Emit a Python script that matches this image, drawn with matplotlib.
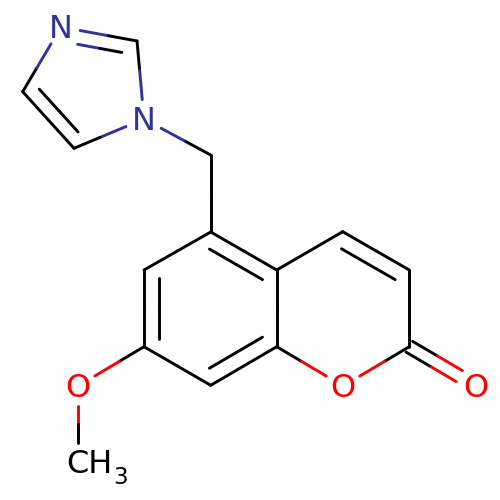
import numpy as np
import matplotlib
matplotlib.use("Agg")
import matplotlib.pyplot as plt

# Atoms of the drawn molecule (positions, in image pixels)
atom_names = ["N3", "C2i", "N1", "C5i", "C4i", "CH2", "C5", "C6", "C7", "C8", "C8a", "C4a",
              "C4", "C3", "C2", "O1", "Oexo", "OMe", "CH3"]
atom_x = [61, 137, 144, 74, 22.7, 210.7, 210.7, 144, 144, 210.7, 276.7, 276.7,
          342.7, 409.3, 409.3, 343, 476, 78, 78]
atom_y = [27, 41, 119, 148.3, 91.7, 155, 232, 270, 346.7, 385.3, 346.7, 270,
          231.7, 270, 346.7, 386, 386, 386, 462]
atom_elements = ["N", "C", "N", "C", "C", "C", "C", "C", "C", "C", "C", "C",
                 "C", "C", "C", "O", "O", "O", "C"]
labelled_atoms = ["N3", "N1", "O1", "Oexo", "OMe", "CH3"]

# Connectivity
single_bonds = [("C2i", "N1"), ("N1", "C5i"), ("C4i", "N3"), ("N1", "CH2"), ("CH2", "C5"),
                ("C5", "C6"), ("C7", "C8"), ("C7", "OMe"), ("OMe", "CH3"),
                ("C4a", "C8a"), ("C4a", "C4"), ("C3", "C2"), ("C8a", "O1"), ("C2", "O1")]
ring_double_bonds = [("N3", "C2i"), ("C5i", "C4i"), ("C6", "C7"), ("C8", "C8a"),
                     ("C5", "C4a"), ("C4", "C3")]
exo_double_bonds = [("C2", "Oexo")]

COLORS = {"C": "#000000", "N": "#333399", "O": "#FF0000"}
LW = 2.1
LABEL_GAP = 19.5
pos = {n: np.array([x, y], float) for n, x, y in zip(atom_names, atom_x, atom_y)}
elem = dict(zip(atom_names, atom_elements))
ring_centers = {5: np.mean([pos[n] for n in ["N3", "C2i", "N1", "C5i", "C4i"]], axis=0),
                6: np.mean([pos[n] for n in ["C5", "C6", "C7", "C8", "C8a", "C4a"]], axis=0),
                7: np.mean([pos[n] for n in ["C8a", "C4a", "C4", "C3", "C2", "O1"]], axis=0)}

fig = plt.figure(figsize=(5, 5), dpi=100, facecolor="white")
ax = fig.add_axes([0, 0, 1, 1])
ax.set_xlim(0, 500)
ax.set_ylim(500, 0)
ax.axis("off")


def two_tone(p, q, ca, cb):
    """Draw one stroke split at its middle into the colours of its two atoms."""
    m = (p + q) / 2
    ax.plot([p[0], m[0]], [p[1], m[1]], color=ca, lw=LW, solid_capstyle="round")
    ax.plot([m[0], q[0]], [m[1], q[1]], color=cb, lw=LW, solid_capstyle="round")


def trimmed(a, b):
    p, q = pos[a].copy(), pos[b].copy()
    d = (q - p) / np.linalg.norm(q - p)
    if a in labelled_atoms:
        p = p + d * LABEL_GAP
    if b in labelled_atoms:
        q = q - d * LABEL_GAP
    return p, q, d


for a, b in single_bonds:
    p, q, _ = trimmed(a, b)
    two_tone(p, q, COLORS[elem[a]], COLORS[elem[b]])

for a, b in ring_double_bonds:
    p, q, d = trimmed(a, b)
    two_tone(p, q, COLORS[elem[a]], COLORS[elem[b]])
    normal = np.array([-d[1], d[0]])
    in_five = a in ("N3", "C5i")
    if in_five:
        center = ring_centers[5]
    elif a == "C4":
        center = ring_centers[7]
    else:
        center = ring_centers[6]
    if np.dot(center - p, normal) < 0:
        normal = -normal
    offset = 14.0 if in_five else 15.4
    shrink_p = 0 if a == "N3" else (9.3 if in_five else 7.5)
    shrink_q = 12.8 if a == "N3" else (9.3 if in_five else 7.5)
    two_tone(p + normal * offset + d * shrink_p, q + normal * offset - d * shrink_q,
             COLORS[elem[a]], COLORS[elem[b]])

for a, b in exo_double_bonds:
    p, q, d = trimmed(a, b)
    normal = np.array([-d[1], d[0]])
    two_tone(p - normal * 6.3, q - normal * 6.3, COLORS[elem[a]], COLORS[elem[b]])
    two_tone(p + normal * 6.3, q + normal * 6.3, COLORS[elem[a]], COLORS[elem[b]])

FS = 23
for name in ["N3", "N1", "O1", "Oexo", "OMe"]:
    x, y = pos[name]
    ax.text(x, y + 10.6, elem[name], color=COLORS[elem[name]], fontsize=FS,
            family="DejaVu Sans", ha="center", va="baseline")
x, y = pos["CH3"]
ax.text(x - 11.5, y + 11, "CH", color="#000000", fontsize=FS, family="DejaVu Sans",
        ha="left", va="baseline")
ax.text(x + 35, y + 22, "3", color="#000000", fontsize=FS * 0.72, family="DejaVu Sans",
        ha="left", va="baseline")

fig.savefig("out.png", dpi=100, facecolor="white")
